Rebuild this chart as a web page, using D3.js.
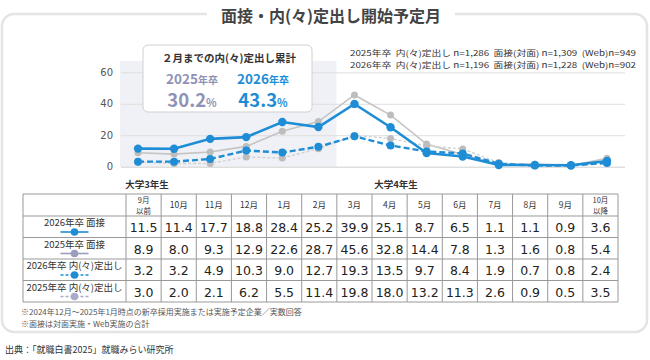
<!DOCTYPE html>
<html>
<head>
<meta charset="utf-8">
<script src="https://cdn.jsdelivr.net/npm/d3@7"></script>
<style>
  body { margin: 0; background: #fff; }
  text { font-family: "Noto Sans CJK JP", "Noto Sans", sans-serif; }
  .num { font-family: "DejaVu Sans", sans-serif; }
</style>
</head>
<body>
<div id="chart"></div>
<script>
// données
const months = ["9月|以前", "10月", "11月", "12月", "1月", "2月", "3月", "4月", "5月", "6月", "7月", "8月", "9月", "10月|以降"];
const interview2026 = [11.5, 11.4, 17.7, 18.8, 28.4, 25.2, 39.9, 25.1, 8.7, 6.5, 1.1, 1.1, 0.9, 3.6];
const interview2025 = [8.9, 8.0, 9.3, 12.9, 22.6, 28.7, 45.6, 32.8, 14.4, 7.8, 1.3, 1.6, 0.8, 5.4];
const offer2026 = [3.2, 3.2, 4.9, 10.3, 9.0, 12.7, 19.3, 13.5, 9.7, 8.4, 1.9, 0.7, 0.8, 2.4];
const offer2025 = [3.0, 2.0, 2.1, 6.2, 5.5, 11.4, 19.8, 18.0, 13.2, 11.3, 2.6, 0.9, 0.5, 3.5];
const yTicks = [0, 20, 40, 60];
const cumulative = [{ year: "2025", value: "30.2" }, { year: "2026", value: "43.3" }];
const nLines = [
  "2025年卒\u00a0\u00a0内(々)定出し n=1,286\u00a0\u00a0面接(対面) n=1,309\u00a0\u00a0(Web)n=949",
  "2026年卒\u00a0\u00a0内(々)定出し n=1,196\u00a0\u00a0面接(対面) n=1,228\u00a0\u00a0(Web)n=902"
];
const notes = ["※2024年12月～2025年1月時点の新卒採用実施または実施予定企業／実数回答", "※面接は対面実施・Web実施の合計"];

const blue = "#1f8dd6";
const grey = "#c4c4c4";
const purple = "#9a9dbd";

const series = [
  { name: "2025年卒 面接", values: interview2025, color: grey, legend: purple, width: 1.6, dash: null, r: 3.5 },
  { name: "2025年卒 内(々)定出し", values: offer2025, color: "#d2d2d2", legend: "#a9acc8", width: 1.4, dash: "3,2", r: 3.5 },
  { name: "2026年卒 内(々)定出し", values: offer2026, color: blue, legend: blue, width: 2.4, dash: "6,3", r: 4 },
  { name: "2026年卒 面接", values: interview2026, color: blue, legend: blue, width: 2.6, dash: null, r: 4.2 }
];
const tableRows = [series[3], series[0], series[2], series[1]];

const svg = d3.select("#chart").append("svg").attr("width", 650).attr("height", 360);

//------Cadre arrondi + titre
svg.append("rect")
  .attr("x", 2).attr("y", 14).attr("width", 645).attr("height", 318)
  .attr("rx", 12)
  .attr("fill", "none").attr("stroke", "#e4e4e4").attr("stroke-width", 2.5);

svg.append("rect").attr("x", 207).attr("y", 2).attr("width", 248).attr("height", 26).attr("fill", "#fff");
svg.append("text")
  .attr("x", 331).attr("y", 22)
  .attr("text-anchor", "middle")
  .style("font-size", "16px").style("font-weight", "bold").style("fill", "#444")
  .text("面接・内(々)定出し開始予定月");

//------Echelles
const x = d3.scalePoint().domain(months).range([138, 607]);
const y = d3.scaleLinear().domain([0, 60]).range([166.7, 72.3]);
const step = x.step();

// zone grisée (大学3年生)
svg.append("rect")
  .attr("x", x(months[0]) - step / 2)
  .attr("y", 61)
  .attr("width", x(months[5]) - x(months[0]) + step)
  .attr("height", y(0) - 61)
  .attr("fill", "#eff1f6");

// grille + axe y
svg.append("g")
  .attr("transform", "translate(121,0)")
  .call(d3.axisLeft(y).tickValues(yTicks).tickSize(-504).tickPadding(8))
  .call(g => g.select(".domain").remove())
  .call(g => g.selectAll("line").attr("stroke", d => d === 0 ? "#cfcfcf" : "#dedede"))
  .call(g => g.selectAll("text").attr("class", "num").style("font-size", "10px").style("fill", "#555"));

//------Lignes
const line = d3.line().x((d, i) => x(months[i])).y(d => y(d));
series.forEach(s => {
  svg.append("path")
    .datum(s.values)
    .attr("d", line)
    .attr("fill", "none")
    .attr("stroke", s.color)
    .attr("stroke-width", s.width)
    .attr("stroke-dasharray", s.dash);
  svg.append("g").selectAll("circle")
    .data(s.values)
    .enter()
    .append("circle")
    .attr("cx", (d, i) => x(months[i]))
    .attr("cy", d => y(d))
    .attr("r", s.r)
    .attr("fill", s.color === blue ? blue : "#bdbdbd");
});

//------Encadré cumul
svg.append("rect")
  .attr("x", 143).attr("y", 45).attr("width", 169).attr("height", 67).attr("rx", 5)
  .attr("fill", "#fff").attr("stroke", "#d0d0d0");
svg.append("text")
  .attr("x", 229).attr("y", 62).attr("text-anchor", "middle")
  .style("font-size", "10.5px").style("font-weight", "bold").style("fill", "#333")
  .text("２月までの内(々)定出し累計");

const cum = svg.selectAll(".cum")
  .data(cumulative)
  .enter()
  .append("g")
  .attr("class", "cum")
  .attr("transform", (d, i) => `translate(${192 + i * 71},0)`)
  .style("fill", (d, i) => i === 0 ? "#8e93b6" : blue)
  .style("font-weight", "bold");
const yr = cum.append("text").attr("y", 84).attr("text-anchor", "middle");
yr.append("tspan").style("font-size", "13.5px").text(d => d.year);
yr.append("tspan").style("font-size", "10px").text("年卒");
const pc = cum.append("text").attr("y", 107).attr("text-anchor", "middle");
pc.append("tspan").style("font-size", "18.5px").text(d => d.value);
pc.append("tspan").style("font-size", "11px").text("%");

//------Effectifs
svg.selectAll(".nline")
  .data(nLines)
  .enter()
  .append("text")
  .attr("class", "nline")
  .attr("x", 350)
  .attr("y", (d, i) => 56 + i * 11.8)
  .attr("textLength", 286)
  .attr("lengthAdjust", "spacingAndGlyphs")
  .style("font-size", "8px").style("fill", "#333")
  .text(d => d);

//------Etiquettes années
svg.append("text").attr("x", 147).attr("y", 188).attr("text-anchor", "middle")
  .style("font-size", "9.5px").style("font-weight", "bold").style("fill", "#333").text("大学3年生");
svg.append("text").attr("x", 396).attr("y", 188).attr("text-anchor", "middle")
  .style("font-size", "9.5px").style("font-weight", "bold").style("fill", "#333").text("大学4年生");

//------Tableau
const tLeft = 23, tLab = 126, tRight = 618;
const col = d3.scaleBand().domain(months).range([tLab, tRight]);
const rowY = [194, 216, 237.5, 259, 280.5, 302];
const table = svg.append("g");

// lignes horizontales
table.selectAll(".hl")
  .data(rowY)
  .enter()
  .append("line")
  .attr("x1", tLeft).attr("x2", tRight)
  .attr("y1", d => d).attr("y2", d => d)
  .attr("stroke", "#999");
// lignes verticales
table.selectAll(".vl")
  .data([tLeft, ...months.map(m => col(m)), tRight])
  .enter()
  .append("line")
  .attr("x1", d => d).attr("x2", d => d)
  .attr("y1", rowY[0]).attr("y2", rowY[5])
  .attr("stroke", "#999");

// en-têtes
months.forEach(m => {
  const parts = m.split("|");
  const t = table.append("text")
    .attr("text-anchor", "middle")
    .style("font-size", parts.length === 1 ? "8.5px" : "7.5px").style("fill", "#333");
  parts.forEach((p, i) => {
    t.append("tspan")
      .attr("x", col(m) + col.bandwidth() / 2)
      .attr("y", parts.length === 1 ? 208 : 203 + i * 11)
      .text(p);
  });
});

// lignes de données
tableRows.forEach((s, r) => {
  const top = rowY[r + 1];
  const cx = (tLeft + tLab) / 2;
  table.append("text")
    .attr("x", cx).attr("y", top + 10)
    .attr("text-anchor", "middle")
    .style("font-size", "9.5px").style("fill", "#333")
    .text(s.name);
  table.append("line")
    .attr("x1", cx - 14).attr("x2", cx + 14)
    .attr("y1", top + 16).attr("y2", top + 16)
    .attr("stroke", s.legend).attr("stroke-width", 1.6)
    .attr("stroke-dasharray", s.dash ? "3,2" : null);
  table.append("circle")
    .attr("cx", cx).attr("cy", top + 16).attr("r", 3.8)
    .attr("fill", s.legend);
  table.selectAll(null)
    .data(s.values)
    .enter()
    .append("text")
    .attr("class", "num")
    .attr("x", (d, i) => col(months[i]) + col.bandwidth() / 2)
    .attr("y", top + 16)
    .attr("text-anchor", "middle")
    .style("font-size", "12.5px").style("fill", "#222")
    .text(d => d.toFixed(1));
});

//------Notes et source
svg.selectAll(".note")
  .data(notes)
  .enter()
  .append("text")
  .attr("x", 21)
  .attr("y", (d, i) => 315 + i * 11.7)
  .style("font-size", "8px").style("fill", "#555")
  .text(d => d);
svg.append("text")
  .attr("x", 5).attr("y", 353)
  .style("font-size", "9px").style("fill", "#333")
  .text("出典：「就職白書2025」就職みらい研究所");
</script>
</body>
</html>
